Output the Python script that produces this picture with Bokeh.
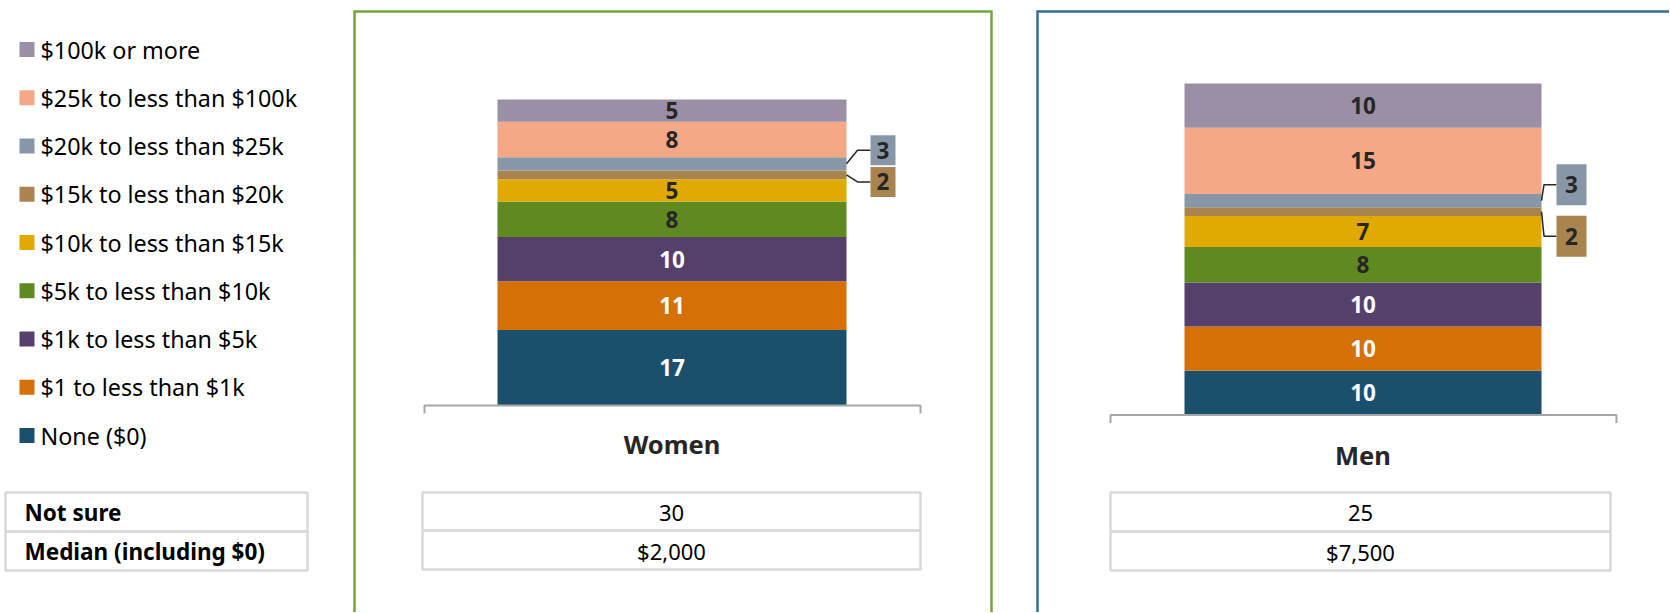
import numpy as np
from bokeh.plotting import figure
from bokeh.models import Range1d
from bokeh.embed import file_html
from bokeh.resources import INLINE
from bokeh.core.properties import value

# ---------------- data ----------------
categories = ["None ($0)", "$1 to less than $1k", "$1k to less than $5k",
              "$5k to less than $10k", "$10k to less than $15k",
              "$15k to less than $20k", "$20k to less than $25k",
              "$25k to less than $100k", "$100k or more"]
women = [17, 11, 10, 8, 5, 2, 3, 8, 5]
men = [10, 10, 10, 8, 7, 2, 3, 15, 10]
groups = ["Women", "Men"]
table_rows = ["Not sure", "Median (including $0)"]
not_sure = [30, 25]
median = ["$2,000", "$7,500"]

# ---------------- style ----------------
colors = ["#1A4F6D", "#D47005", "#553F6B", "#5F8A20", "#E1AA00",
          "#A9844F", "#8797A8", "#F4A886", "#9A8FA5"]
DARK = "#262626"
label_colors = ["white", "white", "white", DARK, DARK, DARK, DARK, DARK, DARK]
FONT = value("Noto Sans")
W, H = 1669, 612
X0, Y0 = 0, 0
TABLE_LINE = "#D9D9D9"

panels = [
    dict(name="Women", values=women, border=(354, 991), border_color="#70A83A",
         bar=(497, 846), base=405.0, scale=306.0 / 69, axis=(424, 920),
         label_y=443, table=(422, 920), table_y=(492, 530, 569), table_cx=671,
         box_w=25, box_h=30, elbow=11, box_gap=24, offsets={6: -13.5, 5: 7.0}),
    dict(name="Men", values=men, border=(1037, 1700), border_color="#336C94",
         bar=(1184, 1541), base=414.5, scale=331.5 / 75, axis=(1110, 1616),
         label_y=454, table=(1110, 1610), table_y=(492, 531, 570), table_cx=1360,
         box_w=30, box_h=41, elbow=2.5, box_gap=15, offsets={6: -16.0, 5: 24.5}),
]

p = figure(width=W, height=H, output_backend="svg", toolbar_location=None,
           x_range=Range1d(X0, X0 + W), y_range=Range1d(Y0 + H, Y0),
           x_axis_location=None, y_axis_location=None, min_border=0,
           outline_line_color=None, background_fill_color="white",
           border_fill_color="white")
p.grid.visible = False

# ---------------- legend (left) ----------------
leg_y = [49 + 48.25 * i for i in range(len(categories))]
leg_cats = categories[::-1]
leg_cols = colors[::-1]
p.rect(x=[26.5] * len(leg_cats), y=leg_y, width=15, height=15,
       fill_color=leg_cols, line_color=None)
p.text(x=[40] * len(leg_cats), y=leg_y, text=leg_cats, text_font=FONT,
       text_font_size="23.3px", text_color="black", text_align="left",
       text_baseline="middle")

# left table
p.quad(left=[5, 5], right=[307, 307], top=[492, 531], bottom=[531, 570],
       fill_color=None, line_color=TABLE_LINE, line_width=2.5)
p.text(x=[24, 24], y=[511.5, 550.5], text=table_rows, text_font=FONT,
       text_font_size="22.5px", text_font_style="bold", text_color="black",
       text_align="left", text_baseline="middle")

# ---------------- panels ----------------
for k, pan in enumerate(panels):
    rname = pan["name"]
    s = pan["scale"]
    base = pan["base"]
    p.extra_y_ranges[rname] = Range1d((base - (Y0 + H)) / s, (base - Y0) / s)

    vals = np.array(pan["values"], dtype=float)
    tops = np.cumsum(vals)
    bottoms = tops - vals
    mids = (tops + bottoms) / 2
    L, R = pan["bar"]
    cx = (L + R) / 2

    # panel border (top, left, right)
    bl, br = pan["border"]
    p.line(x=[bl, bl, br, br], y=[Y0 + H + 5, 11, 11, Y0 + H + 5],
           line_color=pan["border_color"], line_width=2.5, line_join="miter")

    # stacked bar
    p.vbar(x=[cx] * len(vals), width=R - L, bottom=bottoms, top=tops,
           fill_color=colors, line_color=None, y_range_name=rname)

    # in-bar labels
    inside = [i for i, v in enumerate(vals) if v > 3]
    p.text(x=[cx] * len(inside), y=[mids[i] for i in inside],
           text=[str(int(vals[i])) for i in inside], text_font=FONT,
           text_font_size="22.5px", text_font_style="bold",
           text_color=[label_colors[i] for i in inside],
           text_align="center", text_baseline="middle", y_range_name=rname)

    # callout labels for small segments
    small = [i for i, v in enumerate(vals) if v <= 3]
    bx, by, xs, ys = [], [], [], []
    for i in small:
        yb = mids[i] - pan["offsets"][i] / s
        xs.append([R, R + pan["elbow"], R + pan["box_gap"]])
        ys.append([mids[i], yb, yb])
        bx.append(R + pan["box_gap"] + pan["box_w"] / 2)
        by.append(yb)
    p.multi_line(xs=xs, ys=ys, line_color=DARK, line_width=1.5,
                 y_range_name=rname)
    p.rect(x=bx, y=by, width=pan["box_w"], height=pan["box_h"],
           height_units="screen", fill_color=[colors[i] for i in small],
           line_color=None, y_range_name=rname)
    p.text(x=bx, y=by, text=[str(int(vals[i])) for i in small], text_font=FONT,
           text_font_size="22.5px", text_font_style="bold", text_color=DARK,
           text_align="center", text_baseline="middle", y_range_name=rname)

    # category axis line with end ticks
    a0, a1 = pan["axis"]
    p.line(x=[a0, a0, a1, a1], y=[base + 8, base, base, base + 8],
           line_color="#A6A6A6", line_width=2)
    p.text(x=[cx], y=[pan["label_y"]], text=[groups[k]], text_font=FONT,
           text_font_size="25.5px", text_font_style="bold", text_color=DARK,
           text_align="center", text_baseline="middle")

    # table below
    tl, tr = pan["table"]
    ty = pan["table_y"]
    p.quad(left=[tl, tl], right=[tr, tr], top=[ty[0], ty[1]],
           bottom=[ty[1], ty[2]], fill_color=None, line_color=TABLE_LINE,
           line_width=2.5)
    p.text(x=[pan["table_cx"]] * 2,
           y=[(ty[0] + ty[1]) / 2 + 1, (ty[1] + ty[2]) / 2 + 1],
           text=[str(not_sure[k]), median[k]], text_font=FONT,
           text_font_size="22px", text_color="black", text_align="center",
           text_baseline="middle")

open("out.html", "w").write(file_html(p, INLINE))
